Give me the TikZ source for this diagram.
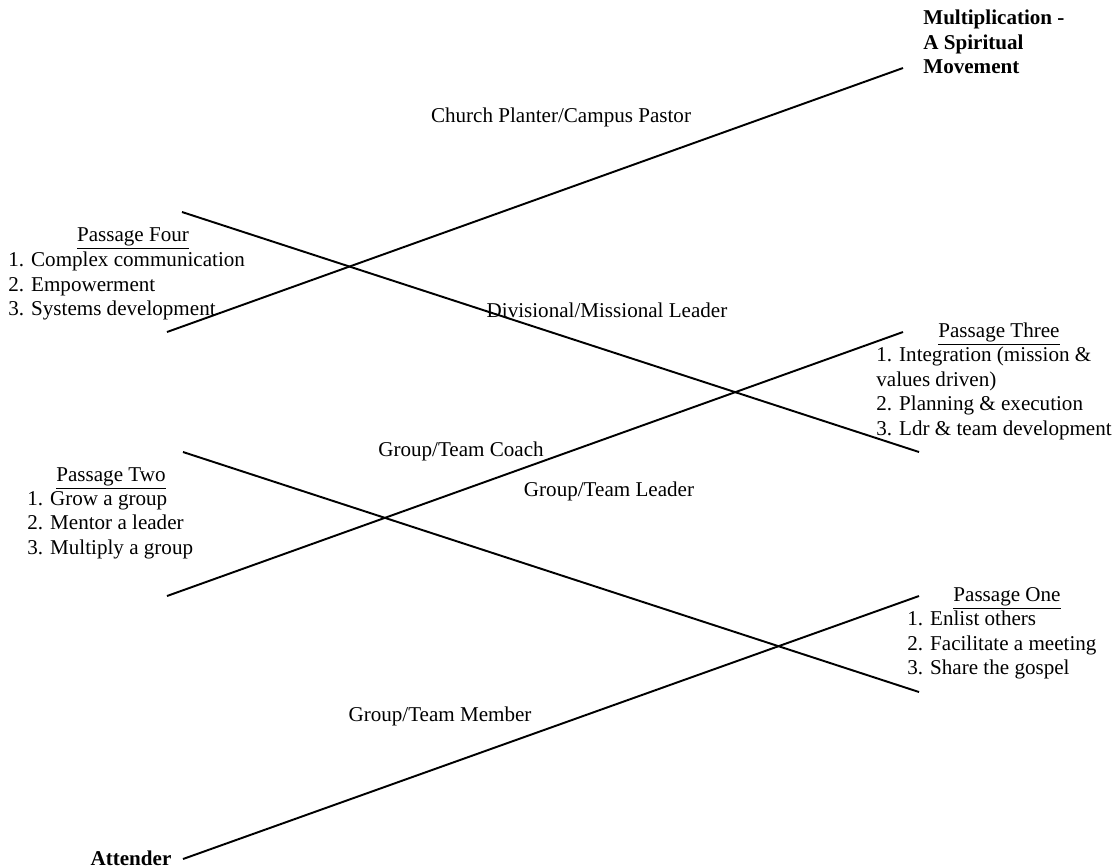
\documentclass[tikz,border=0pt]{standalone}
\usepackage{fontspec}
\setmainfont{Liberation Serif}
\begin{document}
\begin{tikzpicture}[x=0.02cm,y=-0.02cm]
	\tikzstyle{every node}+=[inner sep=0pt, font=\fontsize{12}{13.9}\selectfont]
	\tikzstyle{passline}=[black, line width=1.1pt]
	\tikzstyle{list}=[align=left, anchor=north west]
	\tikzstyle{head}=[anchor=base]
	\tikzstyle{stage}=[font=\fontsize{12}{13.9}\selectfont\bfseries]
	\useasboundingbox (0,0) rectangle (1117,867);
	% end points of the rising and falling lines
	\coordinate (att-end) at (183,859);
	\coordinate (one-top) at (919,596);
	\coordinate (two-top) at (183,452);
	\coordinate (one-bot) at (919,692);
	\coordinate (two-bot) at (167,596);
	\coordinate (three-top) at (903,332);
	\coordinate (four-top) at (182,212);
	\coordinate (three-bot) at (919,452);
	\coordinate (four-bot) at (167,332);
	\coordinate (multi-end) at (903,68);
	\draw [passline] (att-end) -- (one-top);
	\draw [passline] (two-top) -- (one-bot);
	\draw [passline] (two-bot) -- (three-top);
	\draw [passline] (four-top) -- (three-bot);
	\draw [passline] (four-bot) -- (multi-end);
	% top and bottom
	\node [stage, list] (multi) at (923,10) {Multiplication -\\A Spiritual\\Movement};
	\node [stage, head] (attender) at (131,865) {Attender};
	% passages
	\node [head] (fourhead) at (133,241) {\underline{Passage Four}};
	\node [list] (fourlist) at (8,252) {1. Complex communication\\2. Empowerment\\3. Systems development};
	\node [head] (threehead) at (999,337) {\underline{Passage Three}};
	\node [list] (threelist) at (876,347) {1. Integration (mission \&\\values driven)\\2. Planning \& execution\\3. Ldr \& team development};
	\node [head] (twohead) at (111,481) {\underline{Passage Two}};
	\node [list] (twolist) at (27,491) {1. Grow a group\\2. Mentor a leader\\3. Multiply a group};
	\node [head] (onehead) at (1007,601) {\underline{Passage One}};
	\node [list] (onelist) at (907,611) {1. Enlist others\\2. Facilitate a meeting\\3. Share the gospel};
	% roles along the lines
	\node (planter) at (561,117) {Church Planter/Campus Pastor};
	\node (divisional) at (607,310) {Divisional/Missional Leader};
	\node (coach) at (461,451) {Group/Team Coach};
	\node (leader) at (609,491) {Group/Team Leader};
	\node (member) at (440,716) {Group/Team Member};
\end{tikzpicture}
\end{document}
